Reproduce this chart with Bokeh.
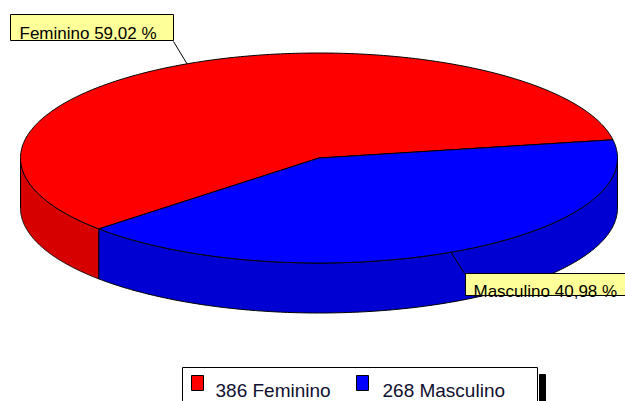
import numpy as np
from bokeh.plotting import figure
from bokeh.models import Range1d
from bokeh.core.properties import value
from bokeh.embed import file_html
from bokeh.resources import INLINE

# ---- data ----
categories = ["Feminino", "Masculino"]
counts = [386, 268]
top_colors = ["#FF0000", "#0000FF"]
side_colors = ["#D60000", "#0000D2"]

# ---- layout (image pixel coordinates) ----
CX, CY, RX, RY, DEPTH = 318.5, 157.5, 298.5, 105.0, 50.0
START = 10.0
FONT = value("Liberation Sans")

p = figure(width=625, height=401, output_backend="svg", toolbar_location=None,
           x_range=Range1d(0, 625), y_range=Range1d(401, 0),
           x_axis_type=None, y_axis_type=None, min_border=0)
p.grid.visible = False
p.outline_line_color = None
p.background_fill_color = "white"
p.border_fill_color = "white"


def ex(t):
    return CX + RX * np.cos(np.radians(t))


def ey(t):
    return CY - RY * np.sin(np.radians(t))


total = float(sum(counts))
fracs = [c / total for c in counts]
angles = []
a = START
for f in fracs:
    angles.append((a, a + 360.0 * f))
    a += 360.0 * f

# side walls (visible front half: 180..360)
side_xs, side_ys, side_c = [], [], []
for (a0, a1), col in zip(angles, side_colors):
    for k in (-360.0, 0.0, 360.0):
        b0 = max(a0 + k, 180.0)
        b1 = min(a1 + k, 360.0)
        if b1 > b0:
            t = np.linspace(b0, b1, 200)
            xs = np.concatenate([ex(t), ex(t[::-1])])
            ys = np.concatenate([ey(t), ey(t[::-1]) + DEPTH])
            side_xs.append(list(xs))
            side_ys.append(list(ys))
            side_c.append(col)
p.patches(side_xs, side_ys, fill_color=side_c, line_color="black", line_width=1)

# top face
top_xs, top_ys = [], []
for (a0, a1) in angles:
    t = np.linspace(a0, a1, 300)
    top_xs.append([CX] + list(ex(t)))
    top_ys.append([CY] + list(ey(t)))
p.patches(top_xs, top_ys, fill_color=top_colors, line_color="black", line_width=1)

# labels
label_boxes = [(10, 14, 173, 40), (465, 273, 632, 295)]
label_anchor = [(173, 41), (464, 273)]
label_text_pos = [(19, 33), (473, 291)]
for i, ((a0, a1), name) in enumerate(zip(angles, categories)):
    mid = (a0 + a1) / 2.0
    px, py = ex(mid), ey(mid)
    ax_, ay_ = label_anchor[i]
    p.line([px, ax_], [py, ay_], line_color="black", line_width=1)
    l, t_, r, b = label_boxes[i]
    p.quad(left=[l], right=[r], top=[t_], bottom=[b], fill_color="#FFFF99",
           line_color="black", line_width=1)
    pct = f"{fracs[i] * 100:.2f}".replace(".", ",") + " %"
    tx, ty = label_text_pos[i]
    p.text(x=[tx], y=[ty], text=[f"{name} {pct}"], text_font=FONT,
           text_font_size="17px", text_color="black",
           text_align="left", text_baseline="alphabetic")

# legend
LEG_TOP = 367
p.quad(left=[539], right=[545], top=[LEG_TOP + 7], bottom=[410], fill_color="black",
       line_color="black")
p.quad(left=[182], right=[537], top=[LEG_TOP], bottom=[410], fill_color="white",
       line_color="black", line_width=1)
sq_x = [191, 356]
txt_x = [215, 382]
for i, name in enumerate(categories):
    p.quad(left=[sq_x[i]], right=[sq_x[i] + 12], top=[LEG_TOP + 8], bottom=[LEG_TOP + 23],
           fill_color=top_colors[i], line_color="black", line_width=1)
    p.text(x=[txt_x[i]], y=[LEG_TOP + 23], text=[f"{counts[i]} {name}"], text_font=FONT,
           text_font_size="19px", text_color="#101030",
           text_align="left", text_baseline="alphabetic")

open("out.html", "w").write(file_html(p, INLINE))
